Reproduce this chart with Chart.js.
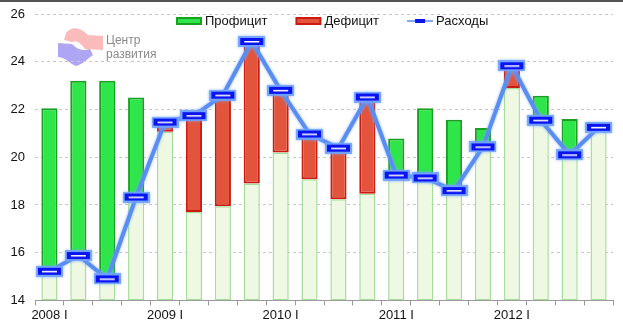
<!DOCTYPE html>
<html>
<head>
<meta charset="utf-8">
<script src="https://cdn.jsdelivr.net/npm/chart.js@4.4.0/dist/chart.umd.min.js"></script>
<style>
    html, body { margin: 0; padding: 0; background: #fff; }
    #wrap { width: 623px; height: 329px; position: relative; }
</style>
</head>
<body>
<div id="wrap"><canvas id="budgetChart"></canvas></div>
<script>
// Quarterly data, 2008 I .. 2012 IV
const quarters = [
    '2008 I', '2008 II', '2008 III', '2008 IV',
    '2009 I', '2009 II', '2009 III', '2009 IV',
    '2010 I', '2010 II', '2010 III', '2010 IV',
    '2011 I', '2011 II', '2011 III', '2011 IV',
    '2012 I', '2012 II', '2012 III', '2012 IV'
];
const revenue = [
    22.05, 23.2, 23.2, 22.5,
    21.07, 17.7, 17.95, 18.9,
    20.2, 19.08, 18.24, 18.47,
    20.78, 22.05, 21.57, 21.22,
    22.9, 22.57, 21.6, 21.2
];
const spending = [
    15.22, 15.88, 14.9, 18.33,
    21.47, 21.74, 22.6, 24.85,
    22.8, 20.97, 20.38, 22.52,
    19.25, 19.13, 18.6, 20.43,
    23.83, 21.55, 20.1, 21.25
];
const yMin = 14;
const yMax = 26;
const yStep = 2;

const seriesNames = ['Профицит', 'Дефицит', 'Расходы'];
const logoLines = ['Центр', 'развития'];

const FONT = '"Liberation Sans", Arial, sans-serif';

// build floating ranges from revenue / spending
const baseRange = quarters.map((q, i) => [yMin, Math.min(revenue[i], spending[i])]);
const surplusRange = quarters.map((q, i) => revenue[i] > spending[i] ? [spending[i], revenue[i]] : null);
const deficitRange = quarters.map((q, i) => revenue[i] < spending[i] ? [revenue[i], spending[i]] : null);

function makeMarker() {
    const c = document.createElement('canvas');
    c.width = 27;
    c.height = 11;
    const g = c.getContext('2d');
    g.fillStyle = 'rgba(110,160,255,0.85)';
    g.fillRect(0, 0, 27, 11);
    g.fillStyle = '#0a14f0';
    g.fillRect(2, 2, 23, 7);
    g.fillStyle = '#ffffff';
    g.fillRect(6, 5, 15, 1.5);
    return c;
}
const marker = makeMarker();

// frame line + logo
const decorPlugin = {
    id: 'decor',
    beforeDraw(chart) {
        const ctx = chart.ctx;
        ctx.save();
        ctx.fillStyle = '#fff';
        ctx.fillRect(0, 0, chart.width, chart.height);
        ctx.fillStyle = '#555';
        ctx.fillRect(0, 0, chart.width, 2);

        // logo shapes
        ctx.fillStyle = 'rgba(250,175,175,0.85)';
        ctx.beginPath();
        ctx.moveTo(66, 33);
        ctx.bezierCurveTo(72, 26, 80, 27, 88, 35);
        ctx.lineTo(103, 36);
        ctx.lineTo(103, 50);
        ctx.lineTo(85, 49);
        ctx.bezierCurveTo(80, 42, 76, 40, 72, 42);
        ctx.lineTo(64, 40);
        ctx.closePath();
        ctx.fill();
        ctx.fillStyle = 'rgba(160,150,240,0.85)';
        ctx.beginPath();
        ctx.moveTo(58, 43);
        ctx.lineTo(72, 44);
        ctx.bezierCurveTo(78, 50, 82, 51, 90, 49);
        ctx.lineTo(93, 55);
        ctx.bezierCurveTo(88, 58, 84, 64, 76, 66);
        ctx.bezierCurveTo(70, 64, 67, 58, 58, 57);
        ctx.closePath();
        ctx.fill();

        ctx.fillStyle = '#8a8a8a';
        ctx.font = '12px ' + FONT;
        ctx.textBaseline = 'middle';
        ctx.fillText(logoLines[0], 106, 41);
        ctx.fillText(logoLines[1], 106, 55);
        ctx.restore();
    }
};

// legend drawn inside the plot area
const legendPlugin = {
    id: 'innerLegend',
    afterDraw(chart) {
        const ctx = chart.ctx;
        const ds = chart.data.datasets;
        const items = [ds[1], ds[2], ds[0]];
        let x = 176;
        const y = 21;
        ctx.save();
        ctx.font = '13px ' + FONT;
        ctx.textBaseline = 'middle';
        items.forEach(d => {
            if (d.type === 'line') {
                ctx.strokeStyle = d.borderColor;
                ctx.lineWidth = 1.5;
                ctx.beginPath();
                ctx.moveTo(x, y);
                ctx.lineTo(x + 26, y);
                ctx.stroke();
                ctx.fillStyle = '#0a14f0';
                ctx.fillRect(x + 8, y - 2, 10, 4);
            } else {
                ctx.fillStyle = d.borderColor;
                ctx.fillRect(x, y - 4, 26, 8);
                ctx.fillStyle = d.backgroundColor;
                ctx.fillRect(x + 2, y - 2, 22, 4);
            }
            ctx.fillStyle = '#111';
            ctx.fillText(d.label, x + 29, y);
            x += 29 + ctx.measureText(d.label).width + 28;
        });
        ctx.restore();
    }
};

// soft glow under the spending line
const glowPlugin = {
    id: 'lineGlow',
    beforeDatasetDraw(chart, args) {
        if (args.index === 0) {
            chart.ctx.save();
            chart.ctx.shadowColor = 'rgba(120,170,255,0.9)';
            chart.ctx.shadowBlur = 3;
        }
    },
    afterDatasetDraw(chart, args) {
        if (args.index === 0) {
            chart.ctx.restore();
        }
    }
};

const ctx = document.getElementById('budgetChart');

new Chart(ctx, {
    data: {
        labels: quarters,
        datasets: [{
            type: 'line',
            label: seriesNames[2],
            data: spending,
            borderColor: '#5a8df2',
            borderWidth: 4,
            pointStyle: marker,
            pointRadius: 6,
            tension: 0,
            order: 0
        }, {
            type: 'bar',
            label: seriesNames[0],
            data: surplusRange,
            backgroundColor: '#2ee54a',
            borderColor: '#18a020',
            borderWidth: 2,
            borderSkipped: false,
            grouped: false,
            order: 1
        }, {
            type: 'bar',
            label: seriesNames[1],
            data: deficitRange,
            backgroundColor: '#e2553c',
            borderColor: '#cc1a10',
            borderWidth: 2,
            borderSkipped: false,
            grouped: false,
            order: 1
        }, {
            type: 'bar',
            label: 'base',
            data: baseRange,
            backgroundColor: '#eef8e2',
            borderColor: '#a6dc9c',
            borderWidth: 1.5,
            borderSkipped: false,
            grouped: false,
            order: 2
        }]
    },
    options: {
        responsive: true,
        maintainAspectRatio: false,
        animation: false,
        datasets: {
            bar: {
                categoryPercentage: 1,
                barPercentage: 0.56
            }
        },
        layout: {
            padding: { top: 14, left: 0, right: 10, bottom: 4 }
        },
        scales: {
            x: {
                offset: true,
                grid: {
                    offset: true,
                    drawOnChartArea: false,
                    tickLength: 5,
                    color: '#999'
                },
                border: { display: true, color: '#999', width: 1 },
                ticks: {
                    autoSkip: false,
                    maxRotation: 0,
                    padding: 2,
                    color: '#111',
                    font: { family: FONT, size: 13 },
                    callback: function(value, index) {
                        return index % 4 === 0 ? quarters[index] : '';
                    }
                }
            },
            y: {
                min: yMin,
                max: yMax,
                afterFit: function(scale) {
                    scale.width = 35;
                    scale.paddingTop = 0;
                    scale.paddingBottom = 0;
                },
                grid: {
                    drawTicks: false,
                    color: function(c) {
                        return c.tick && c.tick.value === yMin ? 'rgba(0,0,0,0)' : '#c8c8c8';
                    }
                },
                border: { display: false, dash: [3, 3] },
                ticks: {
                    stepSize: yStep,
                    padding: 10,
                    color: '#111',
                    font: { family: FONT, size: 13 }
                }
            }
        },
        plugins: {
            legend: { display: false },
            tooltip: { enabled: false }
        }
    },
    plugins: [decorPlugin, legendPlugin, glowPlugin]
});
</script>
</body>
</html>
